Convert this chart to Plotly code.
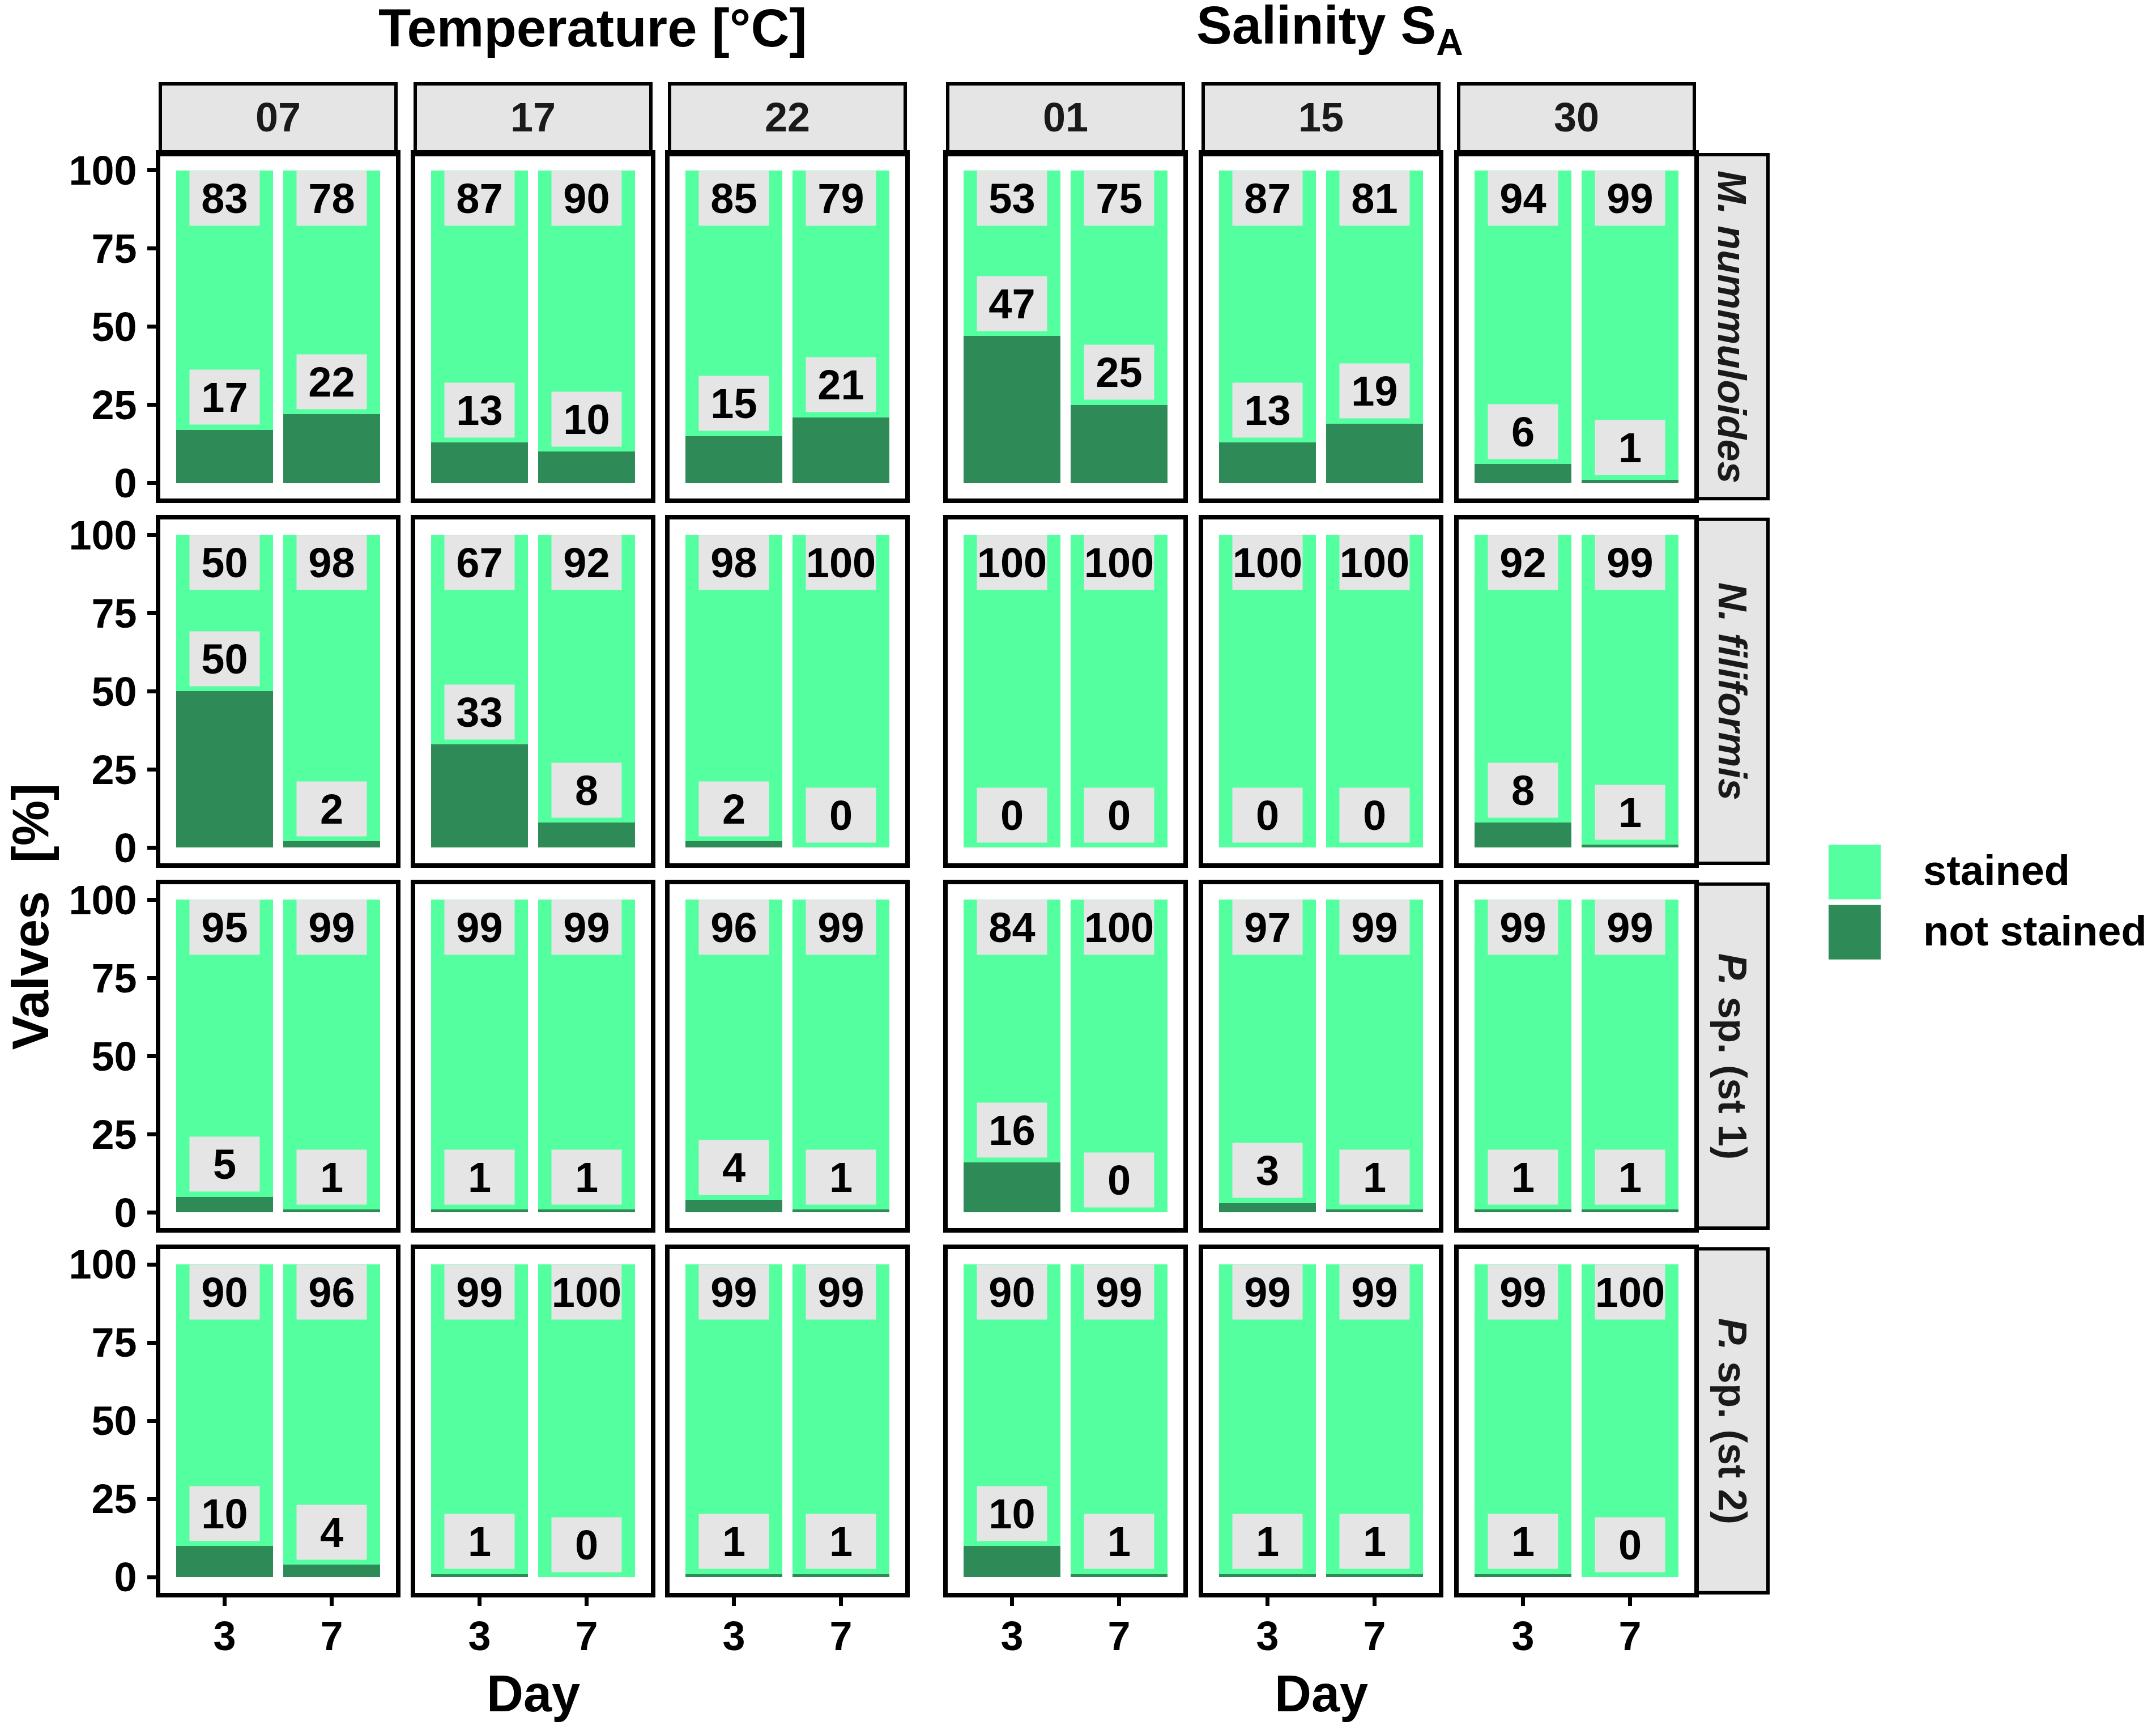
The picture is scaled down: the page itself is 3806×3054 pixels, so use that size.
import plotly.graph_objects as go
from plotly.subplots import make_subplots

# the page adds an 8px body margin, so the figure is drawn 16px smaller
PAGE_W, PAGE_H = 3806, 3054
OFF = 8
W, H = PAGE_W - 2 * OFF, PAGE_H - 2 * OFF
FONT = "Liberation Sans, Arial, sans-serif"
STAINED_COL = "#54FF9F"
NOT_STAINED_COL = "#2E8B57"
GREY = "#E5E5E5"

# facets
groups = ["07", "17", "22", "01", "15", "30"]
species = ["<i>M. nummuloides</i>", "<i>N. filiformis</i>",
           "<i>P.</i> sp. (st 1)", "<i>P.</i> sp. (st 2)"]
days = ["3", "7"]

# values in %, per species: (day 3, day 7) for groups 07,17,22,01,15,30
stained_mn = [83, 78, 87, 90, 85, 79, 53, 75, 87, 81, 94, 99]
not_stained_mn = [17, 22, 13, 10, 15, 21, 47, 25, 13, 19, 6, 1]
stained_nf = [50, 98, 67, 92, 98, 100, 100, 100, 100, 100, 92, 99]
not_stained_nf = [50, 2, 33, 8, 2, 0, 0, 0, 0, 0, 8, 1]
stained_p1 = [95, 99, 99, 99, 96, 99, 84, 100, 97, 99, 99, 99]
not_stained_p1 = [5, 1, 1, 1, 4, 1, 16, 0, 3, 1, 1, 1]
stained_p2 = [90, 96, 99, 100, 99, 99, 90, 99, 99, 99, 99, 100]
not_stained_p2 = [10, 4, 1, 0, 1, 1, 10, 1, 1, 1, 1, 0]

stained = [stained_mn, stained_nf, stained_p1, stained_p2]
not_stained = [not_stained_mn, not_stained_nf, not_stained_p1, not_stained_p2]

# panel geometry in page pixels
col_left = [283, 733, 1182, 1673, 2124, 2575]
panel_w = 416
row_top = [263, 912, 1561, 2210]
panel_h = 612
strip_top = 137
rstrip_l, rstrip_r = 2994, 3121


def fx(px):
    return (px - OFF) / W


def fy(py):
    return 1 - (py - OFF) / H


def paper_text(x, y, text, size, **kw):
    d = dict(x=fx(x), y=fy(y), xref="paper", yref="paper", text=text,
             showarrow=False, xanchor="center", yanchor="middle",
             font=dict(family=FONT, size=size, color=kw.pop("color", "black")))
    d.update(kw)
    return d


fig = make_subplots(rows=4, cols=6)

annotations = []
shapes = []

for r in range(4):
    for c in range(6):
        i = r * 6 + c + 1
        sfx = "" if i == 1 else str(i)
        ns = not_stained[r][2 * c:2 * c + 2]
        st = stained[r][2 * c:2 * c + 2]
        fig.add_trace(go.Bar(x=days, y=ns, marker_color=NOT_STAINED_COL, width=0.9,
                             marker_line_width=0, name="not stained", showlegend=False),
                      row=r + 1, col=c + 1)
        fig.add_trace(go.Bar(x=days, y=st, marker_color=STAINED_COL, width=0.9,
                             marker_line_width=0, name="stained", showlegend=False),
                      row=r + 1, col=c + 1)

        bottom = r == 3
        left = c == 0
        fig.layout["xaxis" + sfx].update(
            domain=[fx(col_left[c]), fx(col_left[c] + panel_w)],
            type="category", range=[-0.6, 1.6],
            showline=True, mirror=True, linewidth=8, linecolor="black",
            showgrid=False, zeroline=False,
            ticks="outside" if bottom else "", ticklen=15, tickwidth=7, tickcolor="black",
            showticklabels=bottom, ticklabelstandoff=-8,
            tickfont=dict(family=FONT, size=72, color="black", weight="bold"))
        fig.layout["yaxis" + sfx].update(
            domain=[fy(row_top[r] + panel_h), fy(row_top[r])],
            range=[-5, 105], tickvals=[0, 25, 50, 75, 100],
            showline=True, mirror=True, linewidth=8, linecolor="black",
            showgrid=False, zeroline=False,
            ticks="outside" if left else "", ticklen=15, tickwidth=7, tickcolor="black",
            showticklabels=left, ticklabelstandoff=4,
            tickfont=dict(family=FONT, size=72, color="black", weight="bold"))

        # value labels (x given as category index on the category axis)
        for k in range(2):
            annotations.append(dict(
                x=k, y=100, xref="x" + sfx, yref="y" + sfx,
                text="<b>%d</b>" % st[k], showarrow=False,
                xanchor="center", yanchor="top",
                width=121, height=94, bgcolor=GREY,
                font=dict(family=FONT, size=74, color="black")))
            annotations.append(dict(
                x=k, y=ns[k] + 1.5, xref="x" + sfx, yref="y" + sfx,
                text="<b>%d</b>" % ns[k], showarrow=False,
                xanchor="center", yanchor="bottom",
                width=121, height=94, bgcolor=GREY,
                font=dict(family=FONT, size=74, color="black")))

# top strips
for c in range(6):
    shapes.append(dict(type="rect", xref="paper", yref="paper",
                       x0=fx(col_left[c]), x1=fx(col_left[c] + panel_w),
                       y0=fy(row_top[0]), y1=fy(strip_top),
                       fillcolor=GREY, line=dict(color="black", width=6), layer="below"))
    annotations.append(paper_text(col_left[c] + panel_w / 2, (strip_top + row_top[0]) / 2 - 4,
                                  "<b>%s</b>" % groups[c], 72, color="#1A1A1A"))

# right strips
for r in range(4):
    shapes.append(dict(type="rect", xref="paper", yref="paper",
                       x0=fx(rstrip_l), x1=fx(rstrip_r),
                       y0=fy(row_top[r] + panel_h), y1=fy(row_top[r]),
                       fillcolor=GREY, line=dict(color="black", width=6), layer="below"))
    annotations.append(paper_text((rstrip_l + rstrip_r) / 2, row_top[r] + panel_h / 2,
                                  "<b>%s</b>" % species[r], 70, color="#1A1A1A", textangle=90))

# titles
annotations.append(paper_text(1046, 38, "<b>Temperature [°C]</b>", 94))
annotations.append(paper_text(2347, 40, "<b>Salinity S<sub>A</sub></b>", 94))

# axis titles
annotations.append(paper_text(54, 1619, "<b>Valves\u00a0 [%]</b>", 90, textangle=-90))
for cx in [941, 2332]:
    annotations.append(paper_text(cx, 3002, "<b>Day</b>", 90))

# legend
leg = [("stained", STAINED_COL, 1491), ("not stained", NOT_STAINED_COL, 1598)]
for lab, colr, top in leg:
    shapes.append(dict(type="rect", xref="paper", yref="paper",
                       x0=fx(3228), x1=fx(3320), y0=fy(top + 97), y1=fy(top),
                       fillcolor=colr, line=dict(width=0)))
    annotations.append(paper_text(3393, top + 46, "<b>%s</b>" % lab, 74, xanchor="left"))

fig.update_layout(
    width=W, height=H, margin=dict(l=0, r=0, t=0, b=0),
    barmode="stack", showlegend=False,
    plot_bgcolor="white", paper_bgcolor="white",
    annotations=annotations, shapes=shapes,
)

fig.write_html("out.html")
